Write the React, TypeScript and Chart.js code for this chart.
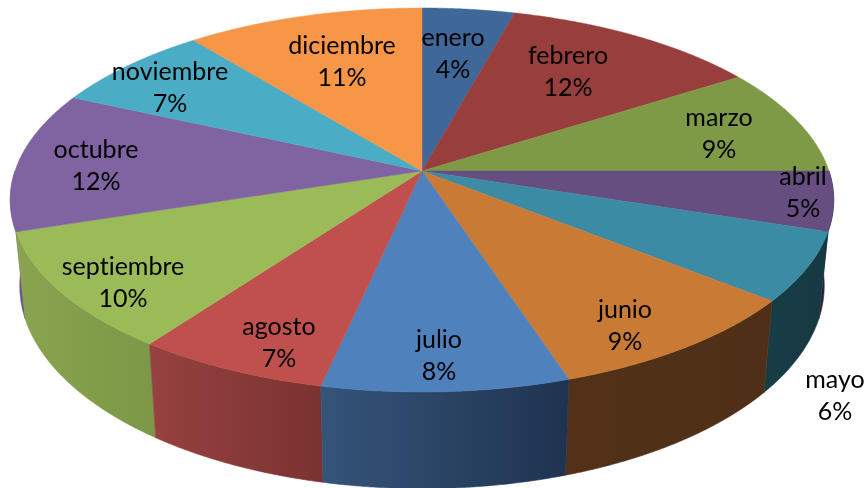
import React, { useEffect, useRef } from "react";
import { Chart, registerables } from "chart.js";

Chart.register(...registerables);

const months = ["enero", "febrero", "marzo", "abril", "mayo", "junio", "julio", "agosto", "septiembre", "octubre", "noviembre", "diciembre"];
const shares = [4.2, 11.7, 9.1, 5, 5.8, 9.2, 8.4, 6.6, 10, 11.8, 7.4, 10.8];

const faceColors = ["#3f6797", "#983f3d", "#7e9a47", "#664e80", "#3a8ba3", "#c97b36", "#4f81bd", "#c0504d", "#9bbb59", "#8064a2", "#4bacc6", "#f79646"];
// left and right shade of each slice's outer wall
const wallColors: [string, string][] = [
  ["#2b4669", "#2b4669"], ["#682b2a", "#682b2a"], ["#566a30", "#566a30"], ["#2f2040", "#2a1c3a"],
  ["#183d47", "#163841"], ["#523118", "#4f2f17"], ["#355479", "#1f3350"], ["#964240", "#7a3231"],
  ["#8aa34f", "#7c9846"], ["#6c5489", "#6c5489"], ["#33788a", "#33788a"], ["#a8662f", "#a8662f"],
];
// centre of the two text lines of each label
const labelAnchors: [number, number][] = [
  [453, 38], [568, 56], [719, 118], [803, 177], [835, 380], [625, 310],
  [439, 340], [279, 327], [123, 267], [96, 150], [170, 72], [342, 46],
];

const CX = 422, CY = 171, RX = 407, RY = 187.6, K = 0.151;
const LINE_GAP = 32;

const topPoint = (a: number): [number, number] => {
  const d = 1 - K * Math.sin(a);
  return [CX + (RX * Math.cos(a)) / d, CY + (RY * Math.sin(a)) / d];
};
const bottomPoint = (a: number): [number, number] => {
  const d = 1 - K * Math.sin(a);
  return [CX + (0.977 * RX * Math.cos(a)) / d, CY + (1.057 * RY * Math.sin(a)) / d + 84];
};
const sweep = (a0: number, a1: number, f: (a: number) => [number, number]) => {
  const n = Math.max(2, Math.ceil(Math.abs(a1 - a0) / 0.005));
  const out: [number, number][] = [];
  for (let i = 0; i <= n; i++) out.push(f(a0 + ((a1 - a0) * i) / n));
  return out;
};

const perspectivePie = {
  id: "perspectivePie",
  beforeDatasetsDraw(chart: any) {
    const ctx = chart.ctx as CanvasRenderingContext2D;
    const arcs = chart.getDatasetMeta(0).data;
    const spans = arcs.map((arc: any, i: number) => {
      const p = arc.getProps(["startAngle", "endAngle"], true);
      return { i, a0: p.startAngle, a1: p.endAngle };
    });
    // outer walls, back to front
    const front = spans
      .map((s: any) => ({ ...s, b0: Math.max(s.a0, 0), b1: Math.min(s.a1, Math.PI) }))
      .filter((s: any) => s.b1 > s.b0)
      .sort((p: any, q: any) => Math.sin((p.b0 + p.b1) / 2) - Math.sin((q.b0 + q.b1) / 2));
    for (const s of front) {
      const upper = sweep(s.b0, s.b1, topPoint);
      const lower = sweep(s.b1, s.b0, bottomPoint);
      const pts = [...upper, ...lower];
      const xs = pts.map((p) => p[0]);
      const g = ctx.createLinearGradient(Math.min(...xs), 0, Math.max(...xs), 0);
      g.addColorStop(0, wallColors[s.i][0]);
      g.addColorStop(1, wallColors[s.i][1]);
      ctx.beginPath();
      pts.forEach((p, j) => (j ? ctx.lineTo(p[0], p[1]) : ctx.moveTo(p[0], p[1])));
      ctx.closePath();
      ctx.fillStyle = g;
      ctx.strokeStyle = g;
      ctx.lineWidth = 0.6;
      ctx.fill();
      ctx.stroke();
    }
    // top face
    for (const s of spans) {
      ctx.beginPath();
      ctx.moveTo(CX, CY);
      sweep(s.a0, s.a1, topPoint).forEach((p) => ctx.lineTo(p[0], p[1]));
      ctx.closePath();
      ctx.fillStyle = faceColors[s.i];
      ctx.strokeStyle = faceColors[s.i];
      ctx.lineWidth = 0.5;
      ctx.fill();
      ctx.stroke();
    }
    return false;
  },
  afterDraw(chart: any) {
    const ctx = chart.ctx as any;
    ctx.save();
    ctx.fillStyle = "#000";
    ctx.textAlign = "center";
    ctx.textBaseline = "middle";
    ctx.font = "25px Lato";
    ctx.letterSpacing = "0.01px";
    months.forEach((m, i) => {
      const [x, y] = labelAnchors[i];
      ctx.fillText(m, x, y);
      ctx.fillText(Math.round(shares[i]) + "%", x, y + LINE_GAP);
    });
    ctx.restore();
  },
};

export default function App() {
  const ref = useRef<HTMLCanvasElement>(null);
  useEffect(() => {
    document.body.style.margin = "0";
    const chart = new Chart(ref.current!, {
      type: "pie",
      data: { labels: months, datasets: [{ data: shares, backgroundColor: faceColors, borderWidth: 0 }] },
      options: {
        responsive: false,
        animation: false,
        events: [],
        plugins: { legend: { display: false }, tooltip: { enabled: false } },
      },
      plugins: [perspectivePie],
    } as any);
    return () => chart.destroy();
  }, []);
  return <canvas ref={ref} width={867} height={488} style={{ display: "block" }} />;
}
